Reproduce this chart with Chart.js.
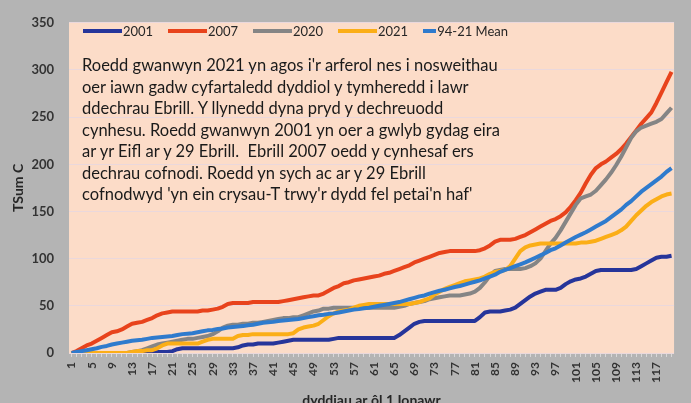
<!DOCTYPE html>
<html lang="cy">
<head>
<meta charset="UTF-8">
<title>TSum C</title>
<script src="https://cdn.jsdelivr.net/npm/chart.js@4/dist/chart.umd.min.js"></script>
<style>
	body { margin: 0; background: #b4b4b4; }
	#wrap { position: relative; width: 691px; height: 403px; }
	#legend { position: absolute; left: 83px; top: 23px; display: flex; font: 13px Lato; color: #262626; }
	#legend .item { width: 85px; display: flex; align-items: center; white-space: nowrap; }
	#legend .swatch { width: 39px; height: 4px; margin-right: 1px; }
	#note { position: absolute; left: 82px; top: 55px; font: 16.5px Lato; line-height: 21.5px; color: #1a1a1a; white-space: pre; }
</style>
</head>
<body>
<div id="wrap">
	<canvas id="chart" width="691" height="403"></canvas>
	<div id="legend"></div>
	<div id="note"></div>
</div>
<script>
// days after 1 January (category axis)
var days = [];
for (var d = 1; d <= 120; d++) days.push(String(d));

var seriesNames = ["2001", "2007", "2020", "2021", "94-21 Mean"];
var seriesColors = ["#26359a", "#e8431c", "#858585", "#fbae17", "#2f7bcd"];

// cumulative temperature sums
var tsum2001 = [
	0,0,0,0,0,0,0,0,0,0,
	0,0,0,0,0,0,0,1,1,1,
	2,4,5,5,5,5,5,5,5,5,
	5,5,5,6,8,9,9,10,10,10,
	10,11,12,13,14,14,14,14,14,14,
	14,14,15,16,16,16,16,16,16,16,
	16,16,16,16,16,19,23,27,31,33,
	34,34,34,34,34,34,34,34,34,34,
	34,38,43,44,44,44,45,46,48,52,
	56,60,63,65,67,67,67,69,73,76,
	78,79,81,84,87,88,88,88,88,88,
	88,88,89,92,95,98,101,102,102,103
];
var tsum2007 = [
	0,2,5,8,10,13,16,19,22,23,
	25,28,31,32,33,35,37,40,42,43,
	44,44,44,44,44,44,45,45,46,47,
	49,52,53,53,53,53,54,54,54,54,
	54,54,55,56,57,58,59,60,61,61,
	63,66,69,71,74,75,77,78,79,80,
	81,82,84,85,87,89,91,93,96,98,
	100,102,104,106,107,108,108,108,108,108,
	108,109,111,114,118,120,120,120,121,123,
	125,128,131,134,137,140,142,145,149,155,
	162,170,180,189,196,200,203,207,211,216,
	222,229,236,243,249,255,265,276,287,298
];
var tsum2020 = [
	0,0,0,0,0,0,0,0,0,0,
	0,0,1,2,3,5,7,9,10,11,
	12,13,14,15,15,16,17,18,20,23,
	27,29,30,30,31,31,32,32,33,34,
	35,36,37,37,38,38,40,42,44,45,
	47,47,48,48,48,48,48,48,48,48,
	48,48,48,48,48,49,50,52,53,54,
	55,57,58,59,60,61,61,61,62,63,
	65,69,75,82,87,88,89,89,89,89,
	90,92,95,100,108,116,122,130,139,148,
	157,164,166,168,172,178,184,191,199,208,
	218,228,235,239,241,243,245,248,254,260
];
var tsum2021 = [
	0,0,0,0,0,0,0,0,0,0,
	0,0,1,2,2,3,3,5,8,10,
	10,10,10,10,10,10,12,14,15,15,
	15,15,15,18,19,19,20,20,20,20,
	20,20,20,20,21,25,27,28,29,31,
	35,39,42,44,45,46,48,50,51,52,
	52,52,52,52,52,52,52,52,53,54,
	56,58,62,65,68,70,72,74,76,77,
	78,79,81,84,86,87,88,92,100,108,
	112,114,115,116,116,116,116,116,116,116,
	116,117,117,118,119,121,123,125,127,130,
	134,140,146,151,156,160,163,166,168,169
];
var tsumMean = [
	0,1,2,3,4,5,6.5,7.5,9,10,
	11,12,13,13.5,14,15,16,16.5,17,17.5,
	18,19,20,20.5,21,22,23,24,24.5,25.5,
	26,27,27.5,28,28.5,29.5,30,31,32,32.5,
	33,34,34.5,35,35.5,36,37,38,39,40,
	40.5,41.5,42,43,44,45,46,46.5,47.5,48,
	49,50,51,52,53,54,55.5,57,58.5,60,
	61,63,64.5,66,67,68.5,70,71,72.5,74,
	75.5,77,79,81,83,86,88,90,92,94,
	96,98.5,101,103.5,106,109,111,114,117,120,
	123,125.5,128,131,134,137,140,144,148,152,
	157,161,166,171,175,179,183,187,192,196
];
var seriesValues = [tsum2001, tsum2007, tsum2020, tsum2021, tsumMean];

var yTicks = [0, 50, 100, 150, 200, 250, 300, 350];

var noteLines = [
	"Roedd gwanwyn 2021 yn agos i'r arferol nes i nosweithau",
	"oer iawn gadw cyfartaledd dyddiol y tymheredd i lawr",
	"ddechrau Ebrill. Y llynedd dyna pryd y dechreuodd",
	"cynhesu. Roedd gwanwyn 2001 yn oer a gwlyb gydag eira",
	"ar yr Eifl ar y 29 Ebrill.  Ebrill 2007 oedd y cynhesaf ers",
	"dechrau cofnodi. Roedd yn sych ac ar y 29 Ebrill",
	"cofnodwyd 'yn ein crysau-T trwy'r dydd fel petai'n haf'"
];

// legend and text box sit on top of the plot
var legendDiv = document.getElementById("legend");
for (var i = 0; i < seriesNames.length; i++) {
	var item = document.createElement("div");
	item.className = "item";
	var sw = document.createElement("span");
	sw.className = "swatch";
	sw.style.background = seriesColors[i];
	item.appendChild(sw);
	item.appendChild(document.createTextNode(seriesNames[i]));
	legendDiv.appendChild(item);
}
document.getElementById("note").textContent = noteLines.join("\n");

var backgroundPlugin = {
	id: "background",
	beforeDraw: function(chart) {
		var ctx = chart.ctx, a = chart.chartArea;
		ctx.save();
		ctx.fillStyle = "#b4b4b4";
		ctx.fillRect(0, 0, chart.width, chart.height);
		ctx.fillStyle = "#fcdcc8";
		ctx.fillRect(a.left, a.top, a.right - a.left, a.bottom - a.top);
		ctx.restore();
	}
};

var datasets = [];
for (var j = 0; j < seriesNames.length; j++) {
	datasets.push({
		label: seriesNames[j],
		data: seriesValues[j],
		borderColor: seriesColors[j],
		backgroundColor: seriesColors[j],
		order: seriesNames.length - j
	});
}

new Chart(document.getElementById("chart"), {
	type: "line",
	data: { labels: days, datasets: datasets },
	options: {
		responsive: false,
		animation: false,
		layout: { padding: { top: 17, right: 16, left: 0, bottom: 0 } },
		elements: {
			point: { radius: 0 },
			line: { borderWidth: 4, tension: 0, borderJoinStyle: "round" }
		},
		plugins: {
			legend: { display: false },
			tooltip: { enabled: false }
		},
		scales: {
			x: {
				offset: true,
				border: { display: false },
				grid: { drawOnChartArea: false, tickLength: 4, color: "#d8d8d8" },
				ticks: {
					autoSkip: false, minRotation: 90, maxRotation: 90, padding: 5,
					color: "#333333", font: { family: "Lato", size: 12, weight: "bold" },
					callback: function(v, i) { return i % 4 === 0 ? this.getLabelForValue(v) : ""; }
				},
				title: {
					display: true, text: "dyddiau ar ôl 1 Ionawr", color: "#262626", padding: 0,
					font: { family: "Lato", size: 14, weight: "bold", lineHeight: 0.3 }
				},
				afterFit: function(s) { s.height = 50; }
			},
			y: {
				min: yTicks[0],
				max: yTicks[yTicks.length - 1],
				border: { display: false },
				grid: { color: "#ead8dc", drawTicks: false },
				ticks: {
					stepSize: yTicks[1] - yTicks[0], padding: 15,
					color: "#333333", font: { family: "Lato", size: 13, weight: "bold" }
				},
				title: {
					display: true, text: "TSum C", color: "#262626", padding: { top: 10, bottom: 0 },
					font: { family: "Lato", size: 14, weight: "bold" }
				},
				afterFit: function(s) { s.width = 69; }
			}
		}
	},
	plugins: [backgroundPlugin]
});
</script>
</body>
</html>
